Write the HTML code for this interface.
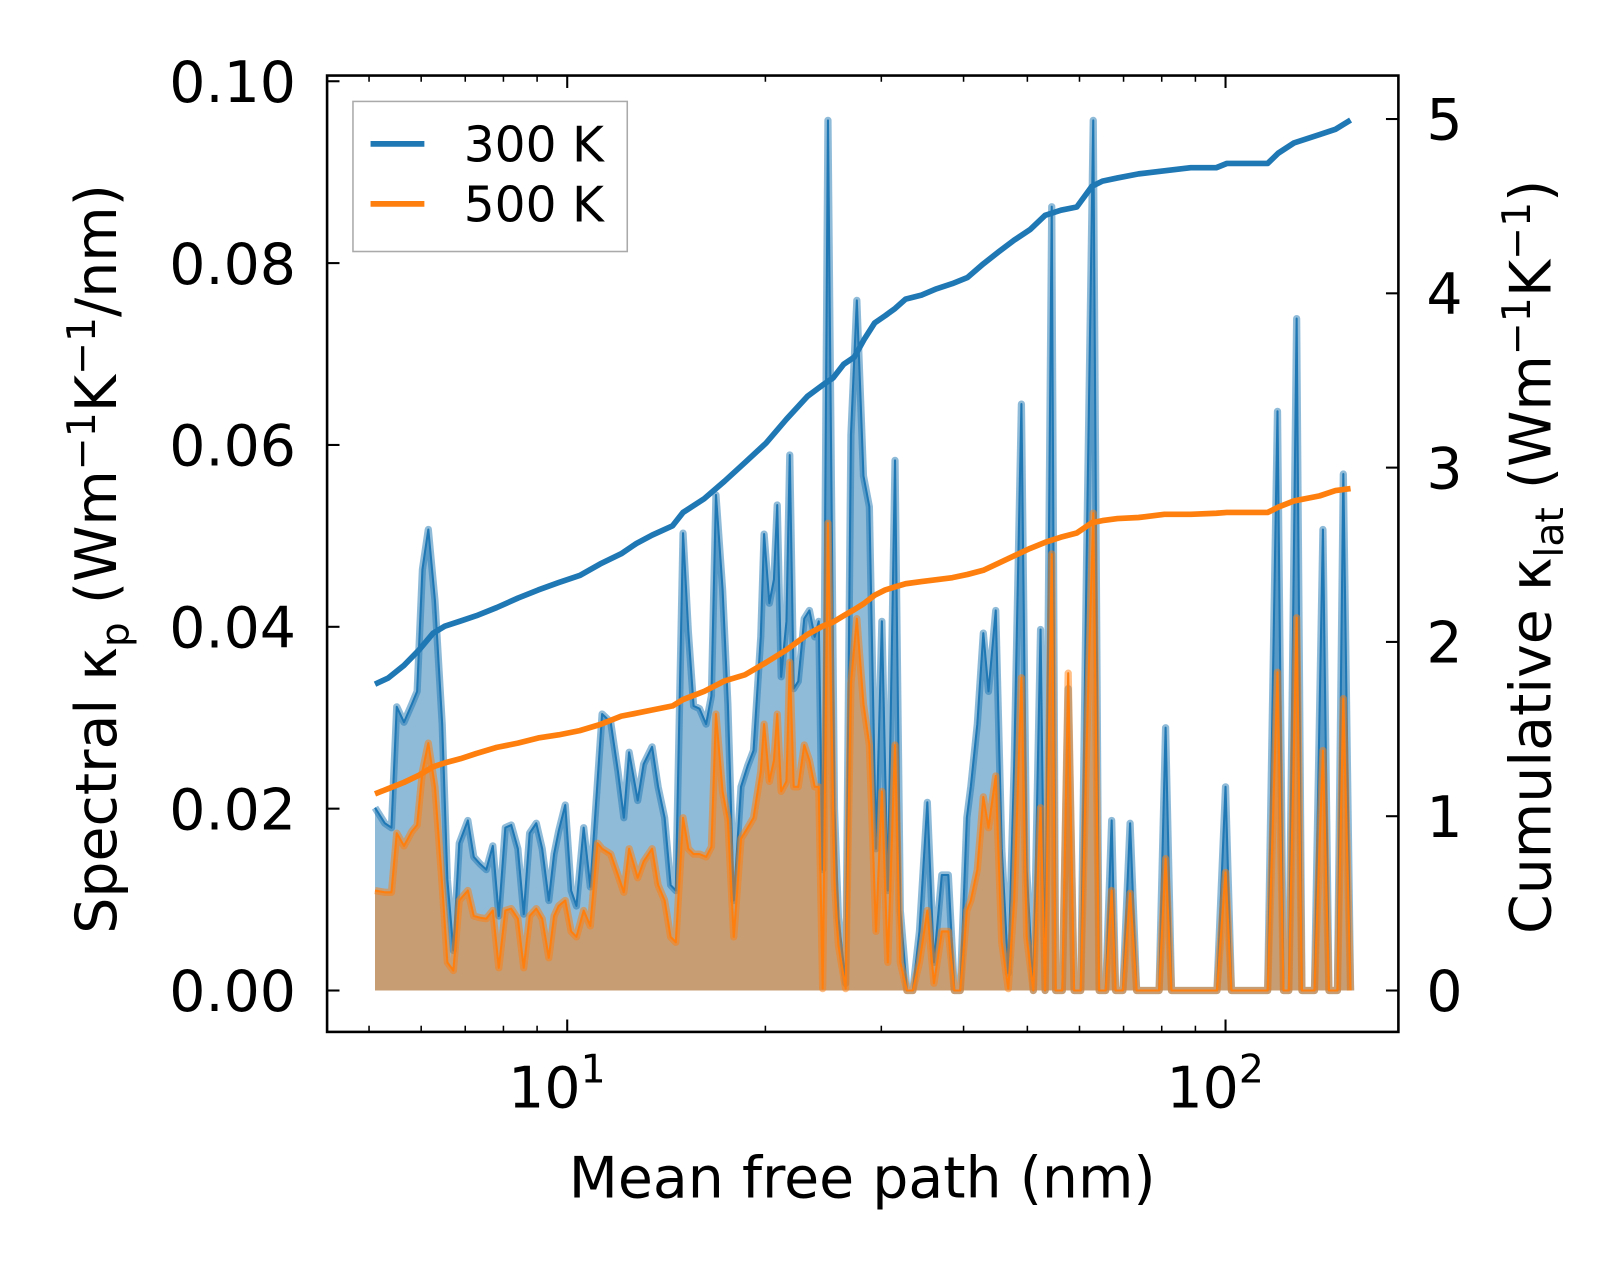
<!DOCTYPE html>
<html><head><meta charset="utf-8"><style>
html,body{margin:0;padding:0;background:#fff;}
svg{display:block;font-family:"DejaVu Sans","Liberation Sans",sans-serif;}
</style></head><body>
<svg id="chart" width="1623" height="1271" viewBox="0 0 1568 1228" preserveAspectRatio="none" xmlns="http://www.w3.org/2000/svg">
<rect x="0" y="0" width="1568" height="1228" fill="#fff"/>
<defs><clipPath id="pc"><rect x="316" y="73" width="1035" height="924"/></clipPath></defs>
<g id="plot" clip-path="url(#pc)"></g>
<rect x="316" y="73" width="1035" height="924" fill="none" stroke="#000" stroke-width="2.5"/>
<g id="ticks"></g>
<text x="833" y="1157" font-size="55" text-anchor="middle">Mean free path (nm)</text>
<text transform="translate(112,540) rotate(-90)" font-size="55" text-anchor="middle">Spectral κ<tspan font-size="38" dy="12">p</tspan><tspan dy="-12"> (Wm</tspan><tspan font-size="38" dy="-20">−1</tspan><tspan dy="20">K</tspan><tspan font-size="38" dy="-20">−1</tspan><tspan dy="20">/nm)</tspan></text>
<text transform="translate(1498,538) rotate(-90)" font-size="55" text-anchor="middle">Cumulative κ<tspan font-size="38" dy="12">lat</tspan><tspan dy="-12"> (Wm</tspan><tspan font-size="38" dy="-20">−1</tspan><tspan dy="20">K</tspan><tspan font-size="38" dy="-20">−1</tspan><tspan dy="20">)</tspan></text>
<g>
<rect x="341" y="98" width="265" height="145" fill="#fff" fill-opacity="0.8" stroke="#aaa" stroke-width="1.5"/>
<line x1="358" y1="139" x2="410" y2="139" stroke="#1f77b4" stroke-width="5.5"/>
<text x="448" y="156" font-size="47">300 K</text>
<line x1="358" y1="197" x2="410" y2="197" stroke="#ff7f0e" stroke-width="5.5"/>
<text x="448" y="214" font-size="47">500 K</text>
</g>
</svg>
<script>
const logMfp=[0.708,0.723,0.733,0.741,0.752,0.764,0.772,0.780,0.789,0.799,0.810,0.818,0.827,0.836,0.849,0.858,0.868,0.877,0.887,0.896,0.906,0.915,0.925,0.934,0.943,0.953,0.962,0.972,0.980,0.987,0.997,1.006,1.014,1.025,1.035,1.046,1.053,1.066,1.077,1.086,1.094,1.107,1.116,1.129,1.138,1.148,1.157,1.165,1.176,1.184,1.192,1.201,1.211,1.219,1.226,1.236,1.244,1.253,1.264,1.274,1.283,1.294,1.299,1.307,1.314,1.319,1.325,1.333,1.338,1.344,1.351,1.360,1.368,1.376,1.382,1.388,1.396,1.406,1.412,1.423,1.431,1.440,1.450,1.459,1.469,1.478,1.487,1.498,1.506,1.516,1.525,1.535,1.547,1.557,1.569,1.579,1.588,1.597,1.607,1.613,1.623,1.632,1.640,1.651,1.660,1.670,1.679,1.690,1.698,1.708,1.719,1.726,1.736,1.742,1.752,1.761,1.770,1.780,1.789,1.799,1.808,1.818,1.827,1.833,1.844,1.855,1.865,1.874,1.884,1.899,1.909,1.918,1.987,2.000,2.009,2.064,2.079,2.088,2.096,2.108,2.116,2.135,2.148,2.157,2.170,2.179,2.190];
const spec300=[0.0201,0.0184,0.0179,0.0312,0.0295,0.0315,0.0329,0.0463,0.0507,0.0429,0.0293,0.0122,0.0044,0.0162,0.0187,0.0147,0.0139,0.0133,0.0159,0.0082,0.0179,0.0182,0.0156,0.0084,0.0173,0.0184,0.0156,0.0099,0.0150,0.0175,0.0204,0.0110,0.0093,0.0179,0.0114,0.0230,0.0304,0.0295,0.0241,0.0190,0.0262,0.0209,0.0249,0.0268,0.0224,0.0190,0.0116,0.0110,0.0503,0.0395,0.0313,0.0310,0.0293,0.0324,0.0545,0.0441,0.0315,0.0099,0.0224,0.0247,0.0264,0.0389,0.0502,0.0426,0.0452,0.0534,0.0345,0.0406,0.0589,0.0332,0.0340,0.0409,0.0418,0.0389,0.0406,0.0133,0.0957,0.0200,0.0080,0.0008,0.0611,0.0759,0.0566,0.0532,0.0156,0.0406,0.0110,0.0583,0.0088,0,0,0.0065,0.0207,0.0031,0.0127,0.0127,0,0,0.0190,0.0224,0.0293,0.0393,0.0329,0.0418,0.0156,0.0019,0.0247,0.0645,0.0133,0,0.0397,0,0.0862,0,0,0.0332,0,0,0.0475,0.0957,0,0,0.0187,0,0,0.0184,0,0,0,0,0.0289,0,0,0.0224,0,0,0.0637,0,0,0.0739,0,0,0.0507,0,0,0.0568,0];
const spec500=[0.0110,0.0108,0.0108,0.0173,0.0159,0.0175,0.0182,0.0241,0.0272,0.0224,0.0116,0.0031,0.0022,0.0099,0.0110,0.0082,0.0080,0.0079,0.0088,0.0025,0.0088,0.0090,0.0079,0.0025,0.0082,0.0090,0.0079,0.0036,0.0082,0.0093,0.0099,0.0065,0.0059,0.0088,0.0071,0.0162,0.0156,0.0150,0.0127,0.0108,0.0156,0.0124,0.0142,0.0156,0.0116,0.0099,0.0059,0.0053,0.0190,0.0156,0.0150,0.0150,0.0147,0.0158,0.0304,0.0219,0.0188,0.0059,0.0167,0.0179,0.0190,0.0241,0.0293,0.0230,0.0253,0.0304,0.0219,0.0230,0.0361,0.0224,0.0224,0.0270,0.0253,0.0224,0.0224,0.0002,0.0514,0.0120,0.0050,0.0002,0.0338,0.0409,0.0315,0.0270,0.0065,0.0219,0.0031,0.0270,0.0031,0,0,0.0031,0.0088,0.0008,0.0065,0.0065,0,0,0.0088,0.0099,0.0133,0.0213,0.0179,0.0236,0.0053,0.0002,0.0099,0.0344,0.0059,0,0.0201,0,0.0480,0,0,0.0349,0,0,0.0270,0.0525,0,0,0.0110,0,0,0.0107,0,0,0,0,0.0145,0,0,0.0130,0,0,0.0350,0,0,0.0410,0,0,0.0264,0,0,0.0321,0];
const cumLogMfp=[0.708,0.728,0.752,0.775,0.796,0.814,0.838,0.862,0.893,0.925,0.956,0.987,1.019,1.050,1.082,1.105,1.129,1.160,1.176,1.208,1.239,1.270,1.302,1.333,1.365,1.388,1.404,1.420,1.436,1.451,1.467,1.483,1.498,1.514,1.538,1.561,1.585,1.608,1.632,1.656,1.679,1.703,1.726,1.750,1.774,1.797,1.813,1.836,1.868,1.907,1.947,1.986,2.002,2.064,2.080,2.104,2.143,2.167,2.190];
const cum300=[1.758,1.793,1.865,1.954,2.049,2.090,2.120,2.150,2.197,2.251,2.298,2.340,2.381,2.447,2.506,2.565,2.613,2.666,2.743,2.821,2.922,3.029,3.141,3.278,3.409,3.474,3.515,3.593,3.634,3.735,3.830,3.872,3.913,3.967,3.990,4.026,4.056,4.091,4.169,4.240,4.305,4.365,4.448,4.477,4.495,4.614,4.644,4.662,4.685,4.703,4.721,4.721,4.745,4.745,4.804,4.863,4.911,4.941,4.994];
const cum500=[1.128,1.158,1.194,1.235,1.283,1.306,1.330,1.360,1.395,1.419,1.449,1.467,1.491,1.526,1.574,1.591,1.609,1.633,1.669,1.716,1.776,1.811,1.882,1.954,2.043,2.090,2.114,2.150,2.185,2.221,2.268,2.298,2.316,2.334,2.346,2.357,2.369,2.387,2.411,2.453,2.494,2.536,2.571,2.601,2.625,2.684,2.696,2.708,2.714,2.732,2.732,2.738,2.743,2.743,2.773,2.809,2.838,2.868,2.880];
const leftTicks=[0,0.02,0.04,0.06,0.08,0.10];
const leftTickLabels=["0.00","0.02","0.04","0.06","0.08","0.10"];
const rightTicks=[0,1,2,3,4,5];
const xMajor=[10,100];
const xMinor=[5,6,7,8,9,20,30,40,50,60,70,80,90];

const NS="http://www.w3.org/2000/svg";
const X=l=>548+(l-1)*636;
const YL=v=>957-v*8785;
const YR=v=>957-v*168.4;
const plot=document.getElementById('plot');
const ticks=document.getElementById('ticks');
function mk(tag,attrs,parent){const e=document.createElementNS(NS,tag);for(const k in attrs)e.setAttribute(k,attrs[k]);parent.appendChild(e);return e;}

function areaPath(xs,ys){let d='M'+X(xs[0])+','+YL(0);xs.forEach((l,i)=>{d+=' L'+X(l).toFixed(1)+','+YL(ys[i]).toFixed(1);});d+=' L'+X(xs[xs.length-1])+','+YL(0)+' Z';return d;}
function linePath(xs,ys,Y){return xs.map((l,i)=>(i?'L':'M')+X(l).toFixed(1)+','+Y(ys[i]).toFixed(1)).join(' ');}

let e;
e=mk('path',{d:areaPath(logMfp,spec300),fill:'#1f77b4','fill-opacity':'0.5',stroke:'none'},plot);


e=mk('path',{d:linePath(logMfp,spec300,YL),fill:'none',stroke:'#1f77b4','stroke-opacity':'0.5','stroke-width':'7','stroke-linejoin':'round'},plot);


e=mk('path',{d:linePath(logMfp,spec300,YL),fill:'none',stroke:'#1f77b4','stroke-width':'2','stroke-linejoin':'round'},plot);


e=mk('path',{d:areaPath(logMfp,spec500),fill:'#ff7f0e','fill-opacity':'0.5',stroke:'none'},plot);


e=mk('path',{d:linePath(logMfp,spec500,YL),fill:'none',stroke:'#ff7f0e','stroke-opacity':'0.5','stroke-width':'7','stroke-linejoin':'round'},plot);


e=mk('path',{d:linePath(logMfp,spec500,YL),fill:'none',stroke:'#ff7f0e','stroke-width':'2','stroke-linejoin':'round'},plot);


e=mk('path',{d:linePath(cumLogMfp,cum300,YR),fill:'none',stroke:'#1f77b4','stroke-width':'5.5','stroke-linejoin':'round'},plot);


e=mk('path',{d:linePath(cumLogMfp,cum500,YR),fill:'none',stroke:'#ff7f0e','stroke-width':'5.5','stroke-linejoin':'round'},plot);



leftTicks.forEach((v,i)=>{const y=YL(v);
 mk('line',{x1:316,x2:328,y1:y,y2:y,stroke:'#000','stroke-width':2},ticks);
 const t=mk('text',{x:286,y:y+20,'font-size':55,'text-anchor':'end'},ticks);t.textContent=leftTickLabels[i];
 
 
});
rightTicks.forEach(v=>{const y=YR(v);
 mk('line',{x1:1339,x2:1351,y1:y,y2:y,stroke:'#000','stroke-width':2},ticks);
 const t=mk('text',{x:1378,y:y+20,'font-size':55},ticks);t.textContent=String(v);
 
 
});
xMajor.forEach(v=>{const x=X(Math.log10(v));
 mk('line',{x1:x,x2:x,y1:985,y2:997,stroke:'#000','stroke-width':2},ticks);
 mk('line',{x1:x,x2:x,y1:73,y2:85,stroke:'#000','stroke-width':2},ticks);
 const t=mk('text',{x:x-10,y:1070,'font-size':55,'text-anchor':'middle'},ticks);
 
 
 t.textContent='10';
 const s=mk('tspan',{'font-size':38,dy:-24},t);s.textContent=String(Math.round(Math.log10(v)));
});
xMinor.forEach(v=>{const x=X(Math.log10(v));
 mk('line',{x1:x,x2:x,y1:991,y2:997,stroke:'#000','stroke-width':1.5},ticks);
 mk('line',{x1:x,x2:x,y1:73,y2:79,stroke:'#000','stroke-width':1.5},ticks);
});
</script>
</body></html>
